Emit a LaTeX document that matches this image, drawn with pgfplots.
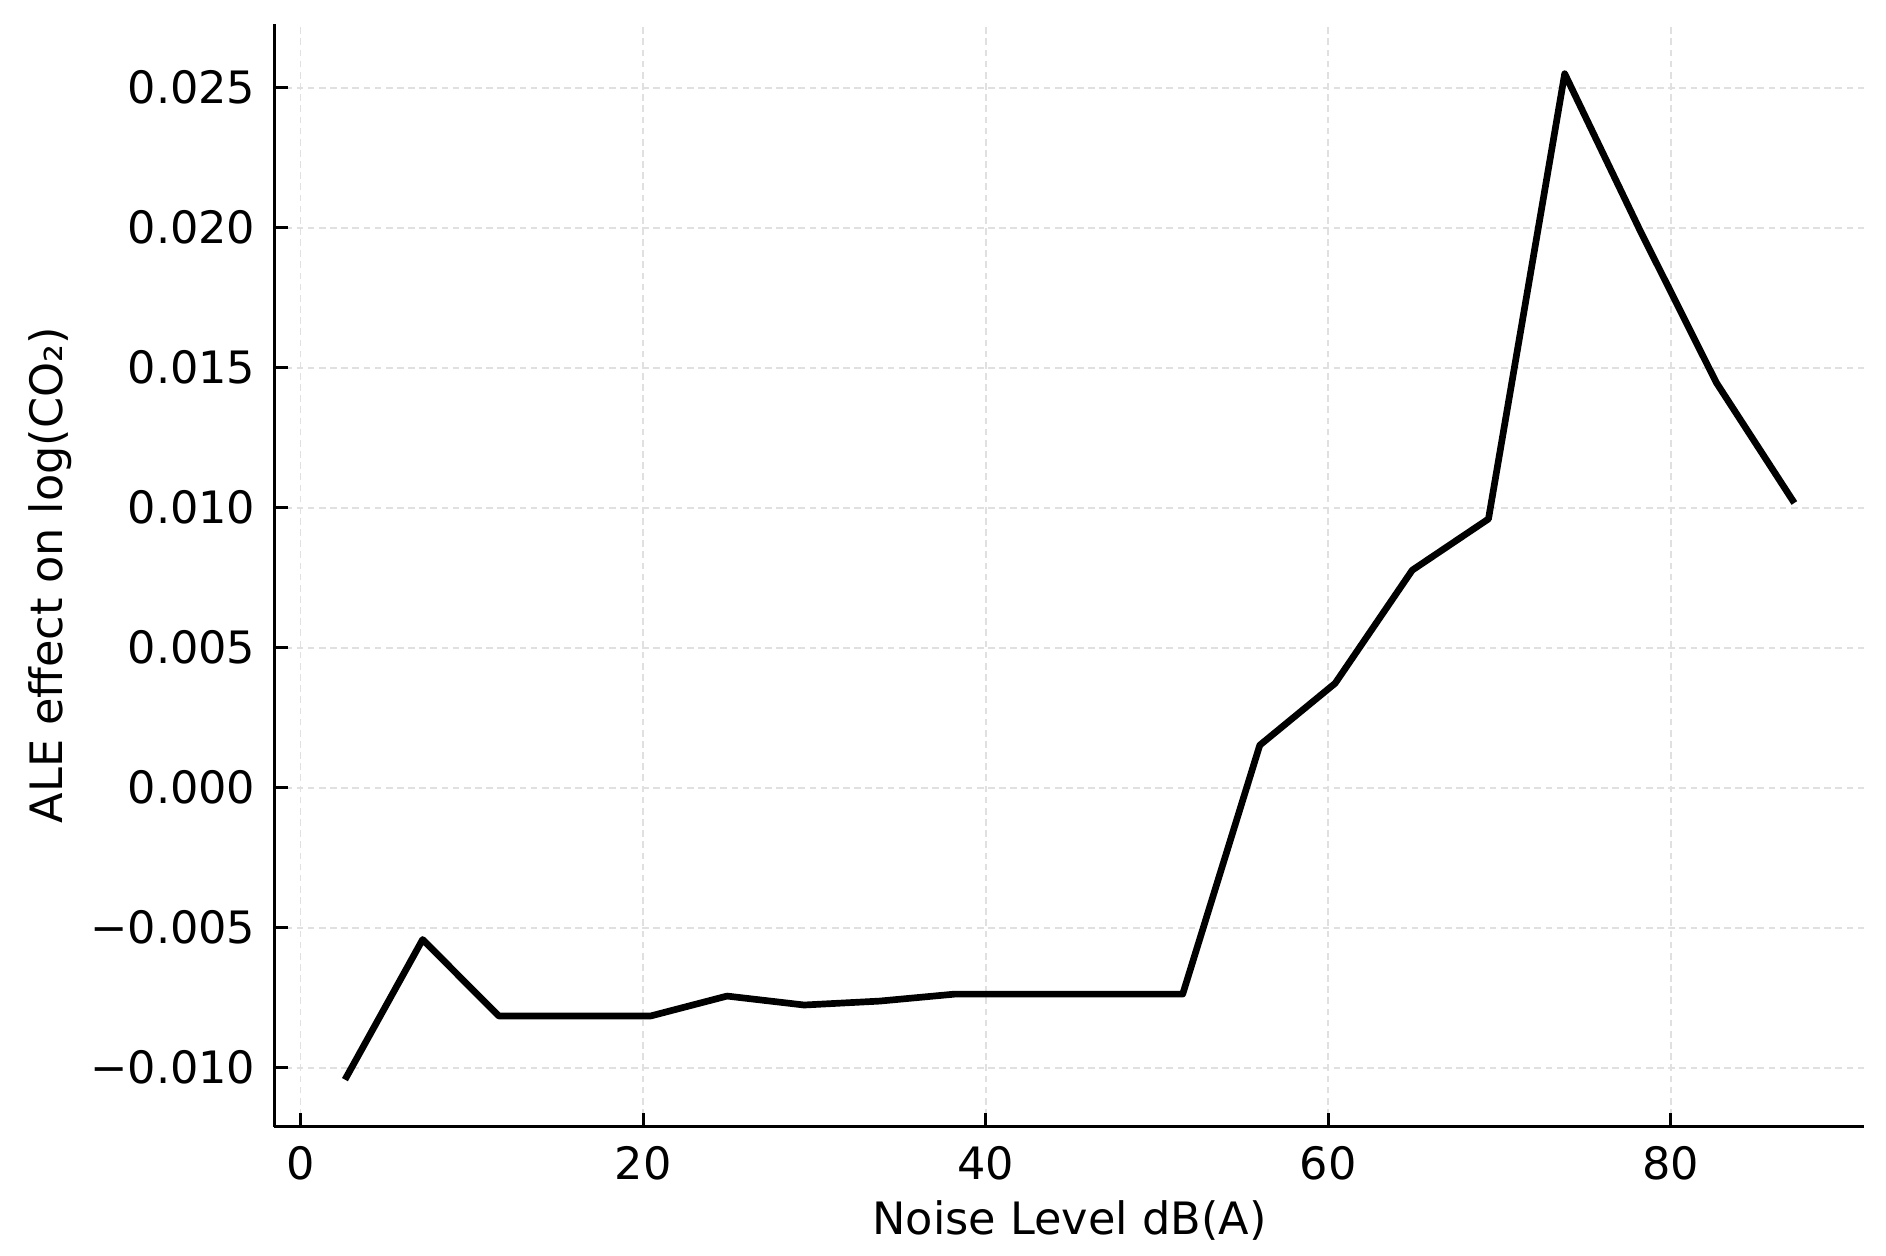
\documentclass[border=0pt]{standalone}
\usepackage{fontspec}
\setmainfont{DejaVu Sans}
\usepackage{pgfplots}
\pgfplotsset{compat=1.18}
\begin{document}
\begin{tikzpicture}
\useasboundingbox (-73.8pt,-34.7pt) rectangle (433.6pt,303.15pt);
\begin{axis}[
  at={(0,0)}, anchor=south west,
  scale only axis, width=427.8pt, height=296.8pt,
  xmin=-1.53, xmax=91.3, ymin=-0.01211, ymax=0.02729,
  axis x line*=bottom, axis y line*=left,
  axis line style={line width=0.9pt, -},
  xtick={0,20,40,60,80}, xticklabels={0,20,40,60,80},
  ytick={-0.010,-0.005,0,0.005,0.010,0.015,0.020,0.025},
  yticklabels={−0.010,−0.005,0.000,0.005,0.010,0.015,0.020,0.025},
  scaled y ticks=false, scaled x ticks=false,
  tick align=inside, major tick length=3.7pt,
  tick style={line width=0.8pt, black},
  grid=major,
  grid style={dash pattern=on 1.8pt off 1.2pt, line width=0.5pt, color=black!12},
  ticklabel style={font=\fontsize{12}{14}\selectfont, text=black},
  yticklabel style={inner sep=0pt, xshift=-4.9pt},
  xticklabel style={inner sep=0pt, yshift=-5pt},
  xlabel={Noise Level dB(A)}, ylabel={ALE effect on log(CO₂)},
  every axis x label/.style={at={(axis description cs:0.5,-0.0849)}, anchor=center, font=\fontsize{12}{14}\selectfont},
  every axis y label/.style={at={(axis description cs:-0.1407,0.5)}, anchor=center, rotate=90, font=\fontsize{12}{14}\selectfont},
]
\addplot[black, line width=1.8pt, mark=none, line cap=rect, line join=round] coordinates {
  (2.69,-0.01032)
  (7.13,-0.00542)
  (11.57,-0.00815)
  (16.0,-0.00815)
  (20.45,-0.00815)
  (24.9,-0.00744)
  (29.4,-0.00776)
  (33.8,-0.00762)
  (38.2,-0.00737)
  (42.6,-0.00737)
  (47.1,-0.00737)
  (51.5,-0.00737)
  (56.0,0.00152)
  (60.4,0.00373)
  (64.9,0.00777)
  (69.35,0.0096)
  (73.8,0.0255)
  (78.2,0.0199)
  (82.65,0.01447)
  (87.1,0.01027)
};
\end{axis}
\end{tikzpicture}
\end{document}
